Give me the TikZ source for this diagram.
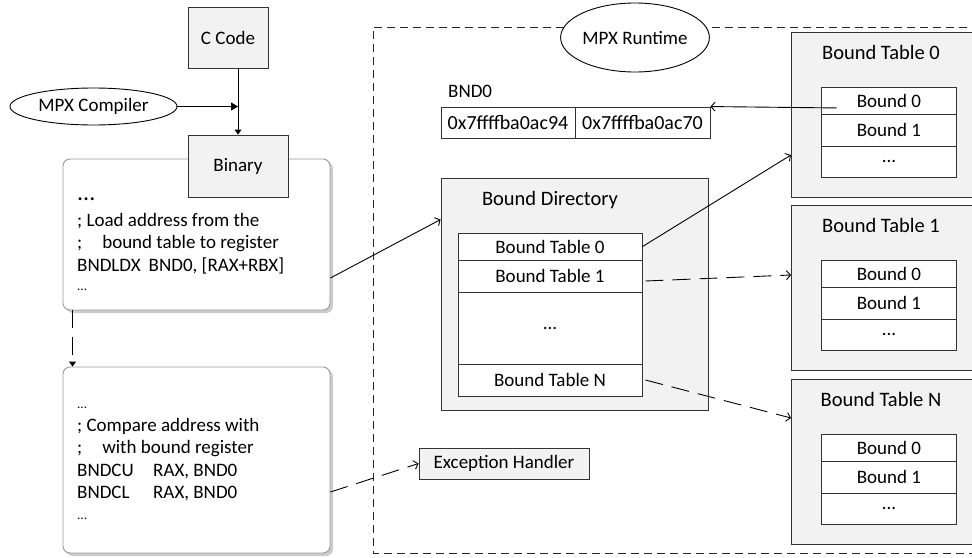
\documentclass[tikz,border=0pt]{standalone}
\usepackage{fontspec}
\setmainfont{Carlito}
\usetikzlibrary{shapes.geometric,arrows.meta,shadows}
\definecolor{boxgray}{HTML}{F2F2F2}
\definecolor{edgegray}{HTML}{333333}

\begin{document}
\begin{tikzpicture}[x=1pt,y=-1pt,
    every node/.style={font=\fontsize{19}{22.5}\selectfont},
    graybox/.style={draw=edgegray, line width=0.9pt, fill=boxgray, inner sep=0pt},
    cell/.style={draw=edgegray, line width=0.9pt, fill=white, inner sep=0pt},
    codebox/.style={draw=black!40, line width=0.9pt, fill=white, rounded corners=7pt,
        drop shadow={shadow xshift=3pt, shadow yshift=-3pt, fill=black!20, opacity=1}},
    codetext/.style={align=left, inner sep=0pt},
    titletxt/.style={inner sep=0pt, font=\fontsize{20.5}{24}\selectfont},
    oval/.style={ellipse, draw=black, line width=0.9pt, fill=white, inner sep=0pt},
    flow/.style={line width=0.9pt, -{Triangle[length=7pt,width=8pt]}},
    link/.style={line width=0.9pt, -{Straight Barb[length=4pt,width=9pt]}},
    dlink/.style={link, dash pattern=on 18pt off 9pt},
    runtime/.style={line width=0.9pt, draw=black!85, dash pattern=on 8pt off 5pt}]
    \clip (0,0) rectangle (972,557);

    % compile side
    \node[graybox, minimum width=80pt, minimum height=61pt] (ccode) at (228,37.5) {C Code};
    \node[oval, minimum width=167pt, minimum height=37pt] (compiler) at (93.5,106.5) {MPX Compiler};
    \node[codebox, minimum width=267pt, minimum height=151pt] (load) at (196.5,234.5) {};
    \node[graybox, minimum width=100pt, minimum height=62pt] (binary) at (238,166) {Binary};
    \node[codetext, anchor=north west] (loadtxt) at (77,198) {%
        {\fontsize{24}{24}\selectfont ...}\\[3pt]
        ; Load address from the\\
        ;\hspace{20pt}bound table to register\\
        BNDLDX\hspace{8pt}BND0, [RAX+RBX]\\[-3pt]
        {\fontsize{13}{13}\selectfont ...}};
    \node[codebox, minimum width=267pt, minimum height=186pt] (check) at (196.5,460) {};
    \node[codetext, anchor=north west] (checktxt) at (77,407) {%
        {\fontsize{13}{13}\selectfont ...}\\
        ; Compare address with\\
        ;\hspace{20pt}with bound register\\
        \makebox[76pt][l]{BNDCU}RAX, BND0\\
        \makebox[76pt][l]{BNDCL}RAX, BND0\\[-2pt]
        {\fontsize{13}{13}\selectfont ...}};

    \draw[line width=0.9pt, -{Triangle[length=5pt,width=7pt]}] (binary.north |- ccode.south) -- (binary.north);
    \draw[flow] (compiler.east) -- (compiler.east -| binary.north);
    \draw[line width=0.9pt, dash pattern=on 18pt off 9pt, -{Triangle[length=5pt,width=7pt]}]
        ([xshift=10pt]load.south west) -- ([xshift=10pt]check.north west);

    % runtime side
    \draw[runtime] (980,27) -- (373,27) -- (373,553) -- (980,553);
    \node[oval, minimum width=146pt, minimum height=69pt] (mpxrt) at (635,37.5) {MPX Runtime};

    \node[anchor=base west, inner sep=0pt] (bndname) at (448,97) {BND0};
    \node[cell, minimum width=134pt, minimum height=31pt, font=\fontsize{20}{24}\selectfont] (lo) at (508,122.5) {0x7ffffba0ac94};
    \node[cell, minimum width=135pt, minimum height=31pt, font=\fontsize{20}{24}\selectfont] (hi) at (642.5,122.5) {0x7ffffba0ac70};

    \node[graybox, minimum width=267pt, minimum height=232pt] (bdir) at (574.5,294) {};
    \node[titletxt] (bdirtitle) at (550,200) {Bound Directory};
    \node[cell, minimum width=184pt, minimum height=26.7pt] (bt0) at (550,246.6) {Bound Table 0};
    \node[cell, minimum width=184pt, minimum height=32.7pt] (bt1) at (550,276.3) {Bound Table 1};
    \node[cell, minimum width=184pt, minimum height=71.3pt] (btdots) at (550,328.3) {...};
    \node[cell, minimum width=184pt, minimum height=32pt] (btn) at (550,380) {Bound Table N};

    \node[graybox, minimum width=170pt, minimum height=31pt] (exc) at (504,463.5) {Exception Handler};

    \foreach \tab/\top/\idx in {t0/32/0, t1/205/1, tn/379/N} {
        \node[graybox, anchor=north west, minimum width=181pt, minimum height=165pt] (\tab) at (791,\top) {};
        \node[titletxt] (\tab-title) at (881,{\top+20}) {Bound Table \idx};
        \node[cell, anchor=north, minimum width=135pt, minimum height=27pt] (\tab-b0) at (889,{\top+55}) {Bound 0};
        \node[cell, anchor=north, minimum width=135pt, minimum height=32pt] (\tab-b1) at (889,{\top+82}) {Bound 1};
        \node[cell, anchor=north, minimum width=135pt, minimum height=31pt] (\tab-dots) at (889,{\top+114}) {...};
    }

    % pointers
    \draw[link] ([yshift=-43.5pt]load.east) -- ([yshift=-42pt]bdir.north west);
    \draw[link] (bt0.east) -- ([yshift=-123pt]t0.north west);
    \draw[dlink] ([xshift=3pt,yshift=-4.7pt]bt1.east) -- ([yshift=-70pt]t1.north west);
    \draw[dlink] ([xshift=3pt]btn.east) -- ([yshift=-39pt]tn.north west);
    \draw[dlink] ([yshift=-32pt]check.east) -- (exc.west);
    \draw[link] ([xshift=15.5pt,yshift=-7pt]t0-b0.west) -- (hi.north east);
\end{tikzpicture}
\end{document}
